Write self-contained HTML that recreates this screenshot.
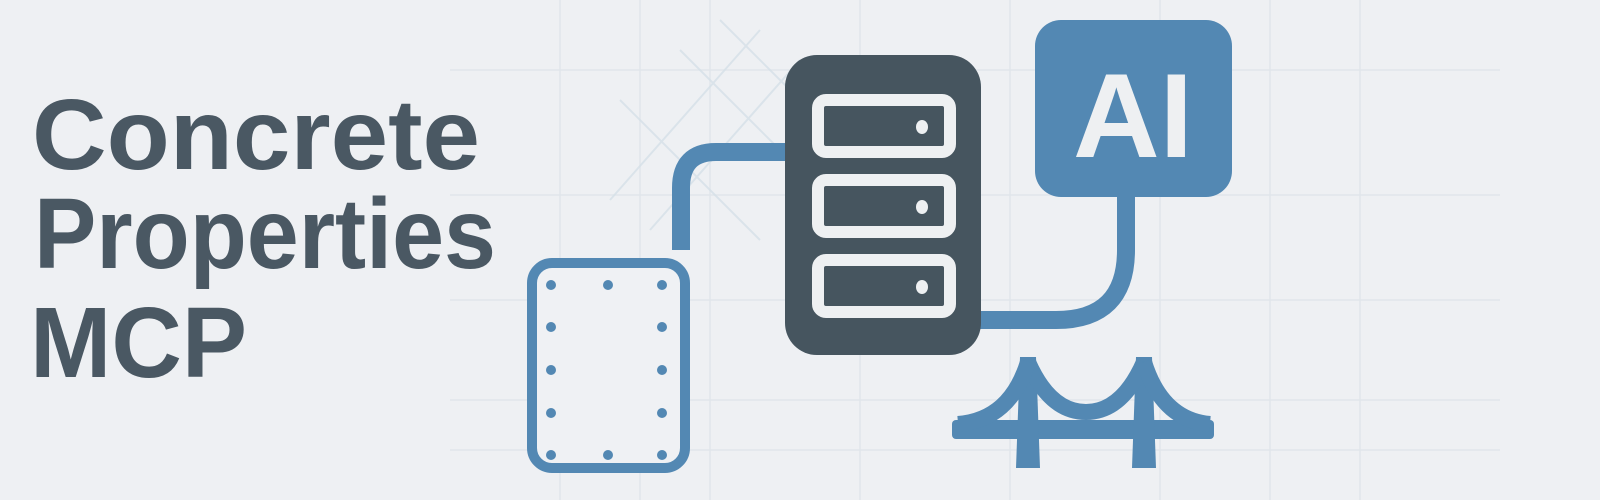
<!DOCTYPE html>
<html><head><meta charset="utf-8"><style>
html,body{margin:0;padding:0;background:#eef0f3;}
svg{display:block;}
</style></head><body>
<svg width="1600" height="500" viewBox="0 0 1600 500" xmlns="http://www.w3.org/2000/svg">
<rect width="1600" height="500" fill="#eef0f3"/>
<g stroke="#dde4ea" stroke-width="1.5" opacity="0.8">
<line x1="450" y1="70" x2="1500" y2="70"/><line x1="450" y1="195" x2="1500" y2="195"/>
<line x1="450" y1="300" x2="1500" y2="300"/><line x1="450" y1="400" x2="1500" y2="400"/>
<line x1="450" y1="450" x2="1500" y2="450"/>
<line x1="560" y1="0" x2="560" y2="500"/><line x1="640" y1="0" x2="640" y2="500"/>
<line x1="710" y1="0" x2="710" y2="500"/><line x1="860" y1="0" x2="860" y2="500"/>
<line x1="1010" y1="0" x2="1010" y2="500"/><line x1="1160" y1="0" x2="1160" y2="500"/>
<line x1="1270" y1="0" x2="1270" y2="500"/><line x1="1360" y1="0" x2="1360" y2="500"/>
</g>
<g stroke="#d6e0e8" stroke-width="2" opacity="0.8">
<line x1="610" y1="200" x2="760" y2="30"/><line x1="650" y1="230" x2="800" y2="60"/>
<line x1="620" y1="100" x2="760" y2="240"/><line x1="680" y1="50" x2="790" y2="160"/>
<line x1="720" y1="20" x2="790" y2="90"/>
</g>
<g fill="#4a5863" font-family="Liberation Sans, sans-serif" font-weight="bold" font-size="100">
<text x="32" y="169" textLength="448" lengthAdjust="spacingAndGlyphs">Concrete</text>
<text x="34" y="268" textLength="462" lengthAdjust="spacingAndGlyphs">Properties</text>
<text x="30" y="377" textLength="217" lengthAdjust="spacingAndGlyphs">MCP</text>
</g>
<!-- connectors -->
<path d="M681 250 V188 Q681 152 716 152 H790" fill="none" stroke="#5388b3" stroke-width="18"/>
<path d="M1126 190 V250 Q1126 320 1056 320 H975" fill="none" stroke="#5388b3" stroke-width="18"/>
<!-- column -->
<rect x="532" y="263" width="153" height="205" rx="20" fill="#eff1f4" stroke="#5388b3" stroke-width="10"/>
<g fill="#5388b3">
<circle cx="551" cy="285" r="5"/><circle cx="608" cy="285" r="5"/><circle cx="662" cy="285" r="5"/>
<circle cx="551" cy="327" r="5"/><circle cx="662" cy="327" r="5"/>
<circle cx="551" cy="370" r="5"/><circle cx="662" cy="370" r="5"/>
<circle cx="551" cy="413" r="5"/><circle cx="662" cy="413" r="5"/>
<circle cx="551" cy="455" r="5"/><circle cx="608" cy="455" r="5"/><circle cx="662" cy="455" r="5"/>
</g>
<!-- server -->
<rect x="785" y="55" width="196" height="300" rx="32" fill="#46555f"/>
<g fill="#46555f" stroke="#eef0f2" stroke-width="12">
<rect x="818" y="100" width="132" height="52" rx="8"/>
<rect x="818" y="180" width="132" height="52" rx="8"/>
<rect x="818" y="260" width="132" height="52" rx="8"/>
</g>
<g fill="#eef0f2">
<ellipse cx="922" cy="127" rx="6" ry="7"/><ellipse cx="922" cy="207" rx="6" ry="7"/><ellipse cx="922" cy="287" rx="6" ry="7"/>
</g>
<!-- AI box -->
<rect x="1035" y="20" width="197" height="177" rx="26" fill="#5388b3"/>
<text x="1133" y="157" text-anchor="middle" fill="#eef0f2" font-family="Liberation Sans, sans-serif" font-weight="bold" font-size="120">AI</text>
<!-- bridge -->
<g fill="#5388b3">
<rect x="952" y="420" width="262" height="19" rx="4"/>
<path d="M1020 357 H1036 L1040 468 H1016 Z"/>
<path d="M1136 357 H1152 L1156 468 H1132 Z"/>
</g>
<g fill="none" stroke="#5388b3" stroke-width="16">
<path d="M1028 362 Q1050 412 1086 412 Q1122 412 1144 362"/>
<path d="M1028 362 Q1010 420 958 424"/>
<path d="M1144 362 Q1162 420 1210 424"/>
</g>
</svg>
</body></html>
